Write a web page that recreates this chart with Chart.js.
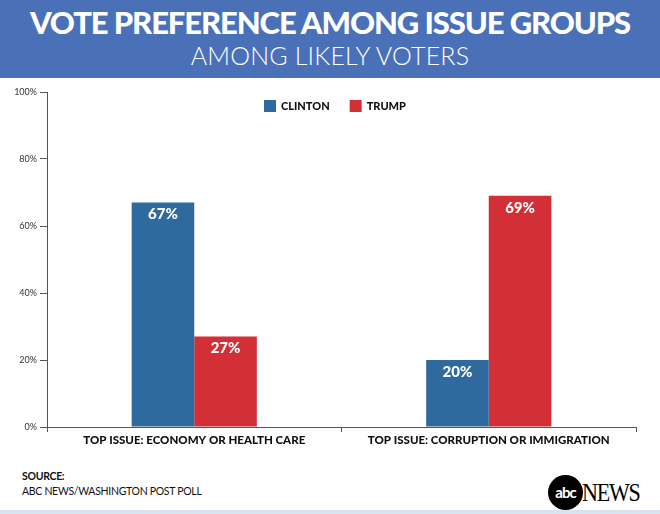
<!DOCTYPE html>
<html><head><meta charset="utf-8">
<script src="https://cdn.jsdelivr.net/npm/chart.js@4"></script>
<style>
html,body{margin:0;padding:0;background:#fff;}
#wrap{position:relative;width:660px;height:514px;overflow:hidden;font-family:Lato,"Open Sans",sans-serif;}
#hdr{position:absolute;left:0;top:0;width:660px;height:78px;background:#4a71b7;color:#fff;text-align:center;}
#t1{position:absolute;left:0;right:0;top:3px;font-size:31px;font-weight:900;letter-spacing:-1.1px;}
#t2{position:absolute;left:0;right:0;top:40px;font-size:25px;font-weight:300;letter-spacing:0.2px;}
#cv{position:absolute;left:0;top:80px;}
#src{position:absolute;left:22px;top:469px;font-size:10.5px;color:#111;line-height:15px;letter-spacing:-0.3px;}
#logo{position:absolute;left:548px;top:475px;height:36px;}
#circ{position:absolute;left:0;top:0;width:35px;height:35px;border-radius:50%;background:#000;color:#fff;font:bold 15px Lato,sans-serif;text-align:center;line-height:34px;letter-spacing:-1px;}
#news{position:absolute;left:34px;top:3px;font:26px "Liberation Serif","DejaVu Serif",serif;color:#000;letter-spacing:-1.5px;transform:scaleX(0.85);transform-origin:left top;}
#bl{position:absolute;left:0;top:510px;width:660px;height:4px;background:#d9e2ef;}
</style></head>
<body><div id="wrap">
<div id="hdr"><div id="t1">VOTE PREFERENCE AMONG ISSUE GROUPS</div><div id="t2">AMONG LIKELY VOTERS</div></div>
<canvas id="cv" width="660" height="380"></canvas>
<div id="src"><b style="font-weight:700">SOURCE:</b><br>ABC NEWS/WASHINGTON POST POLL</div>
<div id="logo"><div id="circ">abc</div><div id="news">NEWS</div></div>
<div id="bl"></div>
</div>
<script>
const categories = ["TOP ISSUE: ECONOMY OR HEALTH CARE", "TOP ISSUE: CORRUPTION OR IMMIGRATION"];
const seriesNames = ["CLINTON", "TRUMP"];
const clintonValues = [67, 20];
const trumpValues = [27, 69];
const yTicks = [0, 20, 40, 60, 80, 100];
const colors = ["#2e6a9e", "#d22f37"];

const legendPlugin = {
  id: "customLegend",
  afterDraw(chart) {
    const ctx = chart.ctx;
    ctx.save();
    ctx.font = "900 11px Lato, sans-serif";
    ctx.textBaseline = "middle";
    const items = chart.data.datasets.map(d => ({ label: d.label, color: d.backgroundColor }));
    let x = 264, y = 26;
    items.forEach(it => {
      ctx.fillStyle = it.color;
      ctx.fillRect(x, y - 6, 12, 12);
      ctx.fillStyle = "#111";
      ctx.fillText(it.label, x + 17, y + 0.5);
      x += 17 + ctx.measureText(it.label).width + 20;
    });
    ctx.restore();
  }
};
const labelPlugin = {
  id: "barLabels",
  afterDatasetsDraw(chart) {
    const ctx = chart.ctx;
    ctx.save();
    ctx.font = "900 15px Lato, sans-serif";
    ctx.fillStyle = "#fff";
    ctx.textAlign = "center";
    ctx.textBaseline = "middle";
    chart.data.datasets.forEach((ds, i) => {
      chart.getDatasetMeta(i).data.forEach((bar, j) => {
        ctx.fillText(ds.data[j] + "%", bar.x, bar.y + 12);
      });
    });
    ctx.restore();
  }
};

new Chart(document.getElementById("cv"), {
  type: "bar",
  data: {
    labels: categories,
    datasets: [
      { label: seriesNames[0], data: clintonValues, backgroundColor: colors[0] },
      { label: seriesNames[1], data: trumpValues, backgroundColor: colors[1] }
    ]
  },
  options: {
    responsive: false,
    animation: false,
    datasets: { bar: { categoryPercentage: 0.425, barPercentage: 1, borderWidth: 0 } },
    layout: { padding: { left: 0, right: 24, top: 12, bottom: 0 } },
    plugins: { legend: { display: false }, tooltip: { enabled: false } },
    scales: {
      x: {
        grid: { display: true, drawOnChartArea: false, offset: true, tickLength: 5, color: "#555", lineWidth: 1 },
        border: { display: true, color: "#555", width: 1 },
        ticks: { color: "#111", font: { family: "Lato, sans-serif", size: 11.5, weight: "900" }, padding: 1, maxRotation: 0 },
        afterFit(s) { s.height = 33; }
      },
      y: {
        min: 0, max: 100,
        afterBuildTicks(s) { s.ticks = yTicks.map(v => ({ value: v })); },
        grid: { display: true, drawOnChartArea: false, tickLength: 7, color: "#555", lineWidth: 1 },
        border: { display: true, color: "#555", width: 1 },
        ticks: { color: "#333", font: { family: "Lato, sans-serif", size: 9 }, padding: 3, callback: v => v + "%" },
        afterFit(s) { s.width = 47; }
      }
    }
  },
  plugins: [legendPlugin, labelPlugin]
});
</script>
</body></html>
